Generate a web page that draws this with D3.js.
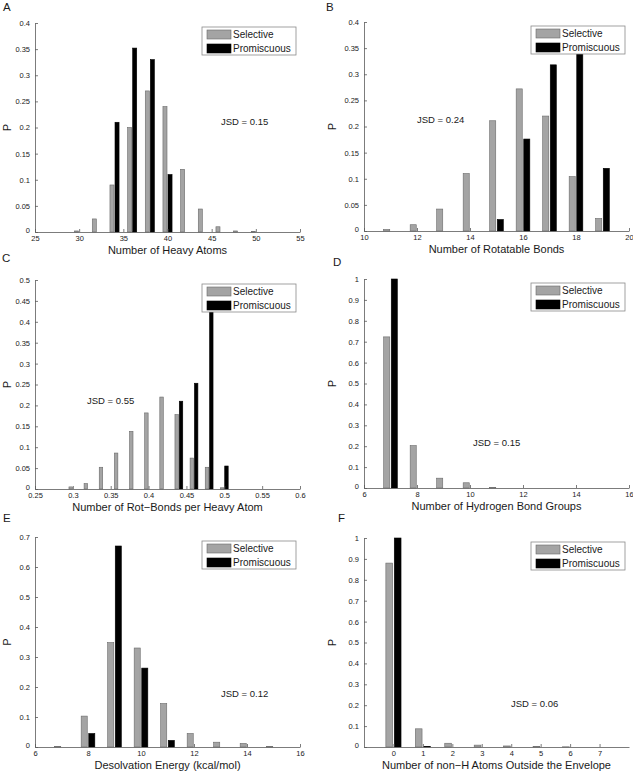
<!DOCTYPE html>
<html>
<head>
<meta charset="utf-8">
<script src="https://cdn.jsdelivr.net/npm/d3@7"></script>
<style>
  html, body { margin: 0; padding: 0; background: #fff; }
  svg text { font-family: "Liberation Sans", Arial, sans-serif; fill: #1a1a1a; }
</style>
</head>
<body>
<svg id="chart" width="633" height="773"></svg>
<script>
// ---------------- DATA ----------------
const seriesNames = ["Selective", "Promiscuous"];

// Panel A: Number of Heavy Atoms
const binsA = [30, 32, 34, 36, 38, 40, 42, 44, 46, 48, 50];
const selectiveA = [0.002, 0.025, 0.09, 0.20, 0.27, 0.24, 0.12, 0.044, 0.01, 0.002, 0.001];
const promiscuousA = [0, 0, 0.21, 0.352, 0.33, 0.11, 0, 0, 0, 0, 0];
const xTicksA = [25, 30, 35, 40, 45, 50, 55];
const yTicksA = [0, 0.05, 0.1, 0.15, 0.2, 0.25, 0.3, 0.35, 0.4];

// Panel B: Number of Rotatable Bonds
const binsB = [11, 12, 13, 14, 15, 16, 17, 18, 19];
const selectiveB = [0.003, 0.012, 0.042, 0.11, 0.211, 0.272, 0.22, 0.104, 0.024];
const promiscuousB = [0, 0, 0, 0, 0.022, 0.176, 0.318, 0.364, 0.12];
const xTicksB = [10, 12, 14, 16, 18, 20];
const yTicksB = [0, 0.05, 0.1, 0.15, 0.2, 0.25, 0.3, 0.35, 0.4];

// Panel C: Number of Rot-Bonds per Heavy Atom
const binsC = [0.30, 0.32, 0.34, 0.36, 0.38, 0.40, 0.42, 0.44, 0.46, 0.48, 0.50];
const selectiveC = [0.005, 0.013, 0.052, 0.086, 0.138, 0.182, 0.22, 0.178, 0.074, 0.052, 0.003];
const promiscuousC = [0, 0, 0, 0, 0, 0, 0, 0.21, 0.253, 0.482, 0.055];
const xTicksC = [0.25, 0.3, 0.35, 0.4, 0.45, 0.5, 0.55, 0.6];
const yTicksC = [0, 0.05, 0.1, 0.15, 0.2, 0.25, 0.3, 0.35, 0.4, 0.45, 0.5];

// Panel D: Number of Hydrogen Bond Groups
const binsD = [7, 8, 9, 10, 11];
const selectiveD = [0.723, 0.203, 0.047, 0.025, 0.002];
const promiscuousD = [1.0, 0, 0, 0, 0];
const xTicksD = [6, 8, 10, 12, 14, 16];
const yTicksD = [0, 0.1, 0.2, 0.3, 0.4, 0.5, 0.6, 0.7, 0.8, 0.9, 1];

// Panel E: Desolvation Energy (kcal/mol)
const binsE = [7, 8, 9, 10, 11, 12, 13, 14, 15];
const selectiveE = [0.002, 0.103, 0.348, 0.33, 0.145, 0.045, 0.016, 0.012, 0.002];
const promiscuousE = [0, 0.045, 0.67, 0.263, 0.022, 0, 0, 0, 0];
const xTicksE = [6, 8, 10, 12, 14, 16];
const yTicksE = [0, 0.1, 0.2, 0.3, 0.4, 0.5, 0.6, 0.7];

// Panel F: Number of non-H Atoms Outside the Envelope
const binsF = [0, 1, 2, 3, 4, 5, 6, 7];
const selectiveF = [0.88, 0.087, 0.018, 0.009, 0.005, 0.002, 0.001, 0];
const promiscuousF = [1.0, 0.002, 0, 0, 0, 0, 0, 0];
const xTicksF = [0, 1, 2, 3, 4, 5, 6, 7];
const yTicksF = [0, 0.1, 0.2, 0.3, 0.4, 0.5, 0.6, 0.7, 0.8, 0.9, 1];

const panelLetters = ["A", "B", "C", "D", "E", "F"];
const xLabels = ["Number of Heavy Atoms", "Number of Rotatable Bonds", "Number of Rot\u2212Bonds per Heavy Atom",
                 "Number of Hydrogen Bond Groups", "Desolvation Energy (kcal/mol)", "Number of non\u2212H Atoms Outside the Envelope"];
const jsdTexts = ["JSD = 0.15", "JSD = 0.24", "JSD = 0.55", "JSD = 0.15", "JSD = 0.12", "JSD = 0.06"];

// ---------------- LAYOUT ----------------
const panels = [
  { bins: binsA, sel: selectiveA, pro: promiscuousA, xDom: [25, 55], yDom: [0, 0.4], xt: xTicksA, yt: yTicksA,
    x0: 35, x1: 300, yT: 23, yB: 232, jx: 221, jy: 122, lx: 3, ly: 11, px: 11 },
  { bins: binsB, sel: selectiveB, pro: promiscuousB, xDom: [10, 20], yDom: [0, 0.4], xt: xTicksB, yt: yTicksB,
    x0: 364, x1: 629, yT: 22, yB: 231, jx: 417, jy: 120, lx: 326, ly: 11, px: 336 },
  { bins: binsC, sel: selectiveC, pro: promiscuousC, xDom: [0.25, 0.6], yDom: [0, 0.5], xt: xTicksC, yt: yTicksC,
    x0: 35, x1: 300, yT: 280, yB: 489, jx: 87, jy: 401, lx: 2, ly: 262, px: 11 },
  { bins: binsD, sel: selectiveD, pro: promiscuousD, xDom: [6, 16], yDom: [0, 1], xt: xTicksD, yt: yTicksD,
    x0: 364, x1: 629, yT: 279, yB: 488, jx: 473, jy: 443, lx: 333, ly: 266, px: 336 },
  { bins: binsE, sel: selectiveE, pro: promiscuousE, xDom: [6, 16], yDom: [0, 0.7], xt: xTicksE, yt: yTicksE,
    x0: 35, x1: 300, yT: 537, yB: 747, jx: 221, jy: 694, lx: 3, ly: 522, px: 11 },
  { bins: binsF, sel: selectiveF, pro: promiscuousF, xDom: [-1, 8], yDom: [0, 1], xt: xTicksF, yt: yTicksF,
    x0: 364, x1: 629, yT: 538, yB: 747, jx: 511, jy: 704, lx: 338, ly: 522, px: 336 }
];

const svg = d3.select("#chart");
svg.append("rect").attr("width", 633).attr("height", 773).attr("fill", "#fff");

const fmt = v => String(+v.toFixed(4));
const GRAY = "#a4a4a4", GRAY_STROKE = "#6a6a6a", AXIS = "#5a5a5a";

panels.forEach((p, i) => {
  const g = svg.append("g");
  const x = d3.scaleLinear().domain(p.xDom).range([p.x0, p.x1]);
  const y = d3.scaleLinear().domain(p.yDom).range([p.yB, p.yT]);
  const s = p.bins[1] - p.bins[0];
  const bw = 0.229 * s, off = 0.143 * s;

  // bars
  const rows = p.bins.map((b, k) => ({ b, sel: p.sel[k], pro: p.pro[k] }));
  g.selectAll(".sel").data(rows.filter(d => d.sel > 0)).join("rect")
    .attr("x", d => x(d.b - off - bw / 2))
    .attr("width", d => x(d.b - off + bw / 2) - x(d.b - off - bw / 2))
    .attr("y", d => y(d.sel))
    .attr("height", d => y(0) - y(d.sel))
    .attr("fill", GRAY).attr("stroke", GRAY_STROKE).attr("stroke-width", 0.6);
  g.selectAll(".pro").data(rows.filter(d => d.pro > 0)).join("rect")
    .attr("x", d => x(d.b + off - bw / 2))
    .attr("width", d => x(d.b + off + bw / 2) - x(d.b + off - bw / 2))
    .attr("y", d => y(d.pro))
    .attr("height", d => y(0) - y(d.pro))
    .attr("fill", "#000").attr("stroke", "#000").attr("stroke-width", 0.6);

  // axes
  const xAxis = d3.axisBottom(x).tickValues(p.xt).tickFormat(fmt).tickSizeInner(-3).tickSizeOuter(0).tickPadding(4);
  const yAxis = d3.axisLeft(y).tickValues(p.yt).tickFormat(fmt).tickSizeInner(-3).tickSizeOuter(0).tickPadding(5);
  const gx = g.append("g").attr("transform", `translate(0,${p.yB})`).call(xAxis);
  const gy = g.append("g").attr("transform", `translate(${p.x0},0)`).call(yAxis);
  [gx, gy].forEach(a => {
    a.select(".domain").attr("stroke", AXIS).attr("stroke-width", 0.8);
    a.selectAll(".tick line").attr("stroke", AXIS).attr("stroke-width", 0.8);
    a.selectAll(".tick text").attr("font-size", 7.5).attr("fill", "#1a1a1a")
      .attr("font-family", '"Liberation Sans", Arial, sans-serif');
  });
  // zero label on the y axis sits slightly above the corner, as in the reference
  gy.selectAll(".tick text").filter(d => d === 0).attr("dy", "0.05em");

  // axis labels
  g.append("text").attr("x", (p.x0 + p.x1) / 2).attr("y", p.yB + 22)
    .attr("text-anchor", "middle").attr("font-size", 11).text(xLabels[i]);
  g.append("text").attr("transform", `translate(${p.px},${(p.yT + p.yB) / 2}) rotate(-90)`)
    .attr("text-anchor", "middle").attr("font-size", 11).text("P");

  // JSD
  g.append("text").attr("x", p.jx).attr("y", p.jy).attr("dy", "0.35em")
    .attr("font-size", 9.5).text(jsdTexts[i]);

  // legend
  const lg = g.append("g").attr("transform", `translate(${p.x1 - 98},${p.yT + 4})`);
  lg.append("rect").attr("width", 94).attr("height", 28).attr("fill", "#fff")
    .attr("stroke", "#8a8a8a").attr("stroke-width", 0.8);
  seriesNames.forEach((name, k) => {
    lg.append("rect").attr("x", 5).attr("y", 3 + k * 14).attr("width", 24).attr("height", 9)
      .attr("fill", k === 0 ? GRAY : "#000").attr("stroke", k === 0 ? GRAY_STROKE : "#000").attr("stroke-width", 0.6);
    lg.append("text").attr("x", 31).attr("y", 7.5 + k * 14).attr("dy", "0.35em")
      .attr("font-size", 10).text(name);
  });

  // panel letter
  svg.append("text").attr("x", p.lx).attr("y", p.ly).attr("font-size", 11.5).text(panelLetters[i]);
});
</script>
</body>
</html>
